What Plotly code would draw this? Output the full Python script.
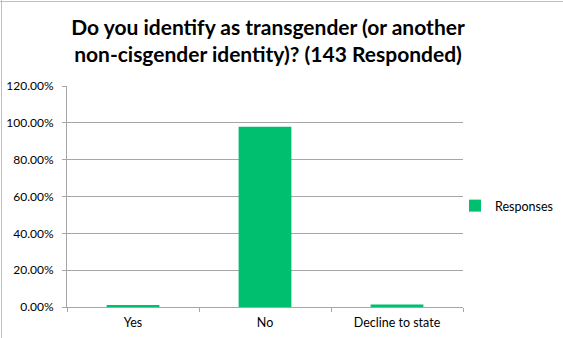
import plotly.graph_objects as go

categories = ["Yes", "No", "Decline to state"]
values = [0.0070, 0.9790, 0.0140]
series_name = "Responses"
y_ticks = [0, 0.2, 0.4, 0.6, 0.8, 1.0, 1.2]
y_tick_labels = ["0.00%", "20.00%", "40.00%", "60.00%", "80.00%", "100.00%", "120.00%"]
title_text = "Do you identify as transgender (or another<br>non-cisgender identity)? (143 Responded)"

W, H = 563, 338
ml, mr, mt, mb = 67, 100, 86, 31

fig = go.Figure()
fig.add_trace(go.Bar(
    x=categories, y=values, name=series_name,
    marker=dict(color="#00BF6F", line=dict(width=0)),
    showlegend=True,
))

pw = W - ml - mr
ph = H - mt - mb
x_left = -ml / pw
y_top = 1 + mt / ph

fig.update_layout(
    width=W, height=H,
    margin=dict(l=ml, r=mr, t=mt, b=mb, autoexpand=False),
    paper_bgcolor="white", plot_bgcolor="white",
    font=dict(family="Lato", size=12, color="#404040"),
    title=dict(text="<b>" + title_text + "</b>", x=268 / W, xanchor="center",
               y=1 - 35 / H, yanchor="middle",
               font=dict(family="Lato", size=21, color="#000000")),
    bargap=0.6,
    showlegend=True,
    legend=dict(xref="container", yref="container", x=455 / W, xanchor="left",
                y=1 - 206 / H, yanchor="middle",
                font=dict(family="Lato", size=12.5, color="#000000"),
                itemwidth=30, bgcolor="rgba(0,0,0,0)"),
    xaxis=dict(showline=True, linecolor="#A6A6A6", linewidth=1,
               ticks="outside", tickson="boundaries", ticklen=4, tickcolor="#A6A6A6",
               ticklabelstandoff=4,
               tickfont=dict(family="Lato", size=12.5, color="#000000"),
               showgrid=False),
    yaxis=dict(range=[0, 1.2], tickvals=y_ticks, ticktext=y_tick_labels,
               showline=True, linecolor="#A6A6A6", linewidth=1,
               ticks="outside", ticklen=4, tickcolor="#A6A6A6",
               ticklabelstandoff=6,
               gridcolor="#A6A6A6", gridwidth=1, zeroline=False,
               tickfont=dict(family="Lato", size=12, color="#000000")),
    shapes=[
        dict(type="line", xref="paper", yref="paper", x0=x_left + 1.5 / pw, x1=x_left + 1.5 / pw,
             y0=-mb / ph, y1=y_top, line=dict(color="#BFBFBF", width=1)),
        dict(type="line", xref="paper", yref="paper", x0=x_left, x1=1 + mr / pw,
             y0=y_top - 1.5 / ph, y1=y_top - 1.5 / ph, line=dict(color="#BFBFBF", width=1)),
    ],
)

fig.write_html("out.html")
